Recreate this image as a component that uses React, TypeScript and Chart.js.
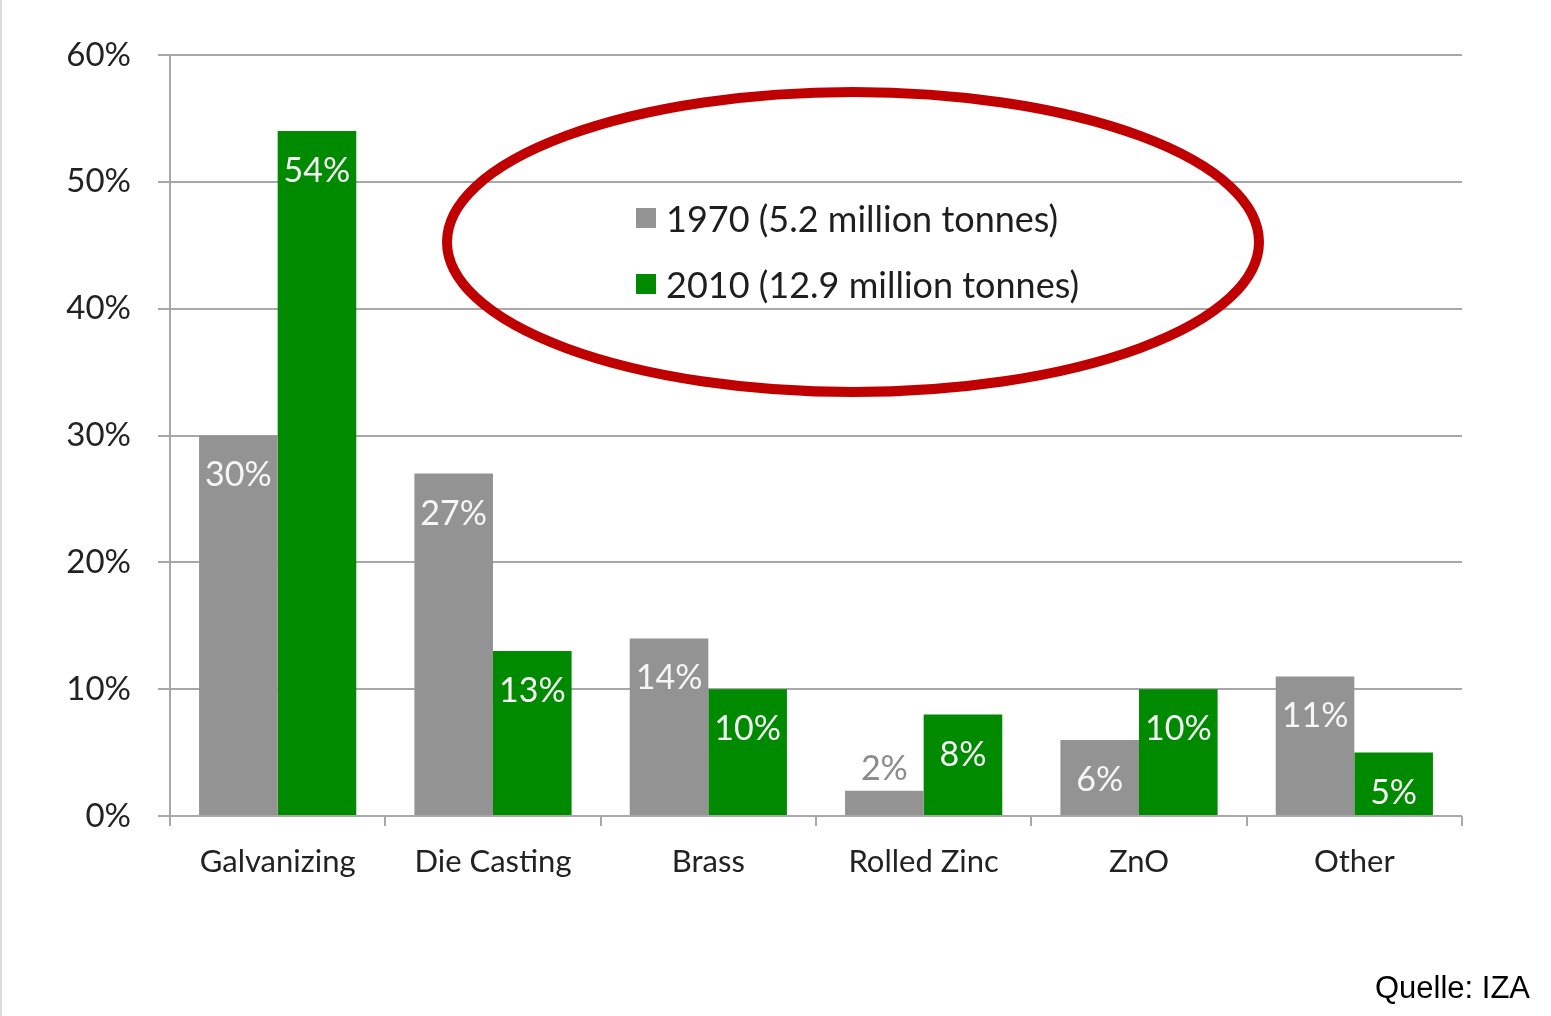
import React, { useEffect, useRef } from "react";
import { Chart, registerables } from "chart.js";

Chart.register(...registerables);

const categories = ["Galvanizing", "Die Casting", "Brass", "Rolled Zinc", "ZnO", "Other"];
const values1970 = [30, 27, 14, 2, 6, 11];
const values2010 = [54, 13, 10, 8, 10, 5];
const seriesLabels = ["1970 (5.2 million tonnes)", "2010 (12.9 million tonnes)"];
const yTicks = [0, 10, 20, 30, 40, 50, 60];
const sourceText = "Quelle: IZA";

const GRAY = "#939393";
const GREEN = "#008a00";
const GRID = "#a8a8a8";
const FONT = "Lato, 'Open Sans', sans-serif";

const barLabels = {
  id: "barLabels",
  afterDatasetsDraw(chart: any) {
    const ctx = chart.ctx;
    ctx.save();
    ctx.font = `34px ${FONT}`;
    ctx.textAlign = "center";
    ctx.textBaseline = "middle";
    chart.data.datasets.forEach((ds: any, di: number) => {
      const meta = chart.getDatasetMeta(di);
      meta.data.forEach((el: any, i: number) => {
        const v = ds.data[i];
        const { x, y, base } = el.getProps(["x", "y", "base"], true);
        const h = base - y;
        const text = v + "%";
        if (h > 50) {
          ctx.fillStyle = "#f6f6f6";
          ctx.fillText(text, x, y + 40);
        } else {
          ctx.fillStyle = "#8c8c8c";
          ctx.fillText(text, x, y - 22);
        }
      });
    });
    ctx.restore();
  },
};

const overlay = {
  id: "overlay",
  afterDraw(chart: any) {
    const ctx = chart.ctx;
    ctx.save();
    // faint left border
    ctx.strokeStyle = "#dcdcdc";
    ctx.lineWidth = 2;
    ctx.beginPath();
    ctx.moveTo(1, 0);
    ctx.lineTo(1, chart.height);
    ctx.stroke();

    // legend
    const colors = [GRAY, GREEN];
    const rowsY = [218, 284];
    ctx.font = `36px ${FONT}`;
    ctx.textAlign = "left";
    ctx.textBaseline = "middle";
    seriesLabels.forEach((lab, i) => {
      ctx.fillStyle = colors[i];
      ctx.fillRect(636, rowsY[i] - 10, 20, 20);
      ctx.fillStyle = "#1e1e1e";
      ctx.fillText(lab, 666, rowsY[i] + 2);
    });

    // red ellipse
    ctx.strokeStyle = "#c00000";
    ctx.lineWidth = 10;
    ctx.beginPath();
    ctx.ellipse(853, 242, 406, 150, 0, 0, Math.PI * 2);
    ctx.stroke();

    // source
    ctx.font = "31px 'Liberation Sans', Arial, sans-serif";
    ctx.fillStyle = "#000000";
    ctx.textAlign = "right";
    ctx.textBaseline = "alphabetic";
    ctx.fillText(sourceText, 1530, 998);
    ctx.restore();
  },
};

export default function App() {
  const ref = useRef<HTMLCanvasElement | null>(null);

  useEffect(() => {
    if (!ref.current) return;
    const chart = new Chart(ref.current, {
      type: "bar",
      data: {
        labels: categories,
        datasets: [
          { label: seriesLabels[0], data: values1970, backgroundColor: GRAY, categoryPercentage: 0.73, barPercentage: 1.0 },
          { label: seriesLabels[1], data: values2010, backgroundColor: GREEN, categoryPercentage: 0.73, barPercentage: 1.0 },
        ],
      },
      options: {
        animation: false,
        responsive: false,
        maintainAspectRatio: false,
        layout: { padding: { top: 55, right: 89, left: 0, bottom: 0 } },
        plugins: { legend: { display: false }, tooltip: { enabled: false } },
        scales: {
          x: {
            grid: { offset: true, drawOnChartArea: false, drawTicks: true, tickLength: 10, color: GRID, lineWidth: 2 },
            border: { display: false },
            ticks: { font: { family: FONT, size: 31 }, color: "#222222", padding: 17 },
            afterFit: (s: any) => { s.height = 200; },
          },
          y: {
            min: 0,
            max: 60,
            afterBuildTicks: (s: any) => { s.ticks = yTicks.map((v) => ({ value: v })); },
            ticks: { callback: (v: any) => v + "%", font: { family: FONT, size: 33 }, color: "#222222", padding: 27 },
            grid: { color: GRID, lineWidth: 2, tickLength: 12 },
            border: { color: GRID, width: 2 },
            afterFit: (s: any) => { s.width = 170; },
          },
        },
      },
      plugins: [barLabels, overlay],
    });
    return () => chart.destroy();
  }, []);

  return (
    <div style={{ position: "absolute", left: 0, top: 0, width: 1551, height: 1016, background: "#fff" }}>
      <canvas ref={ref} width={1551} height={1016} style={{ display: "block" }} />
    </div>
  );
}
